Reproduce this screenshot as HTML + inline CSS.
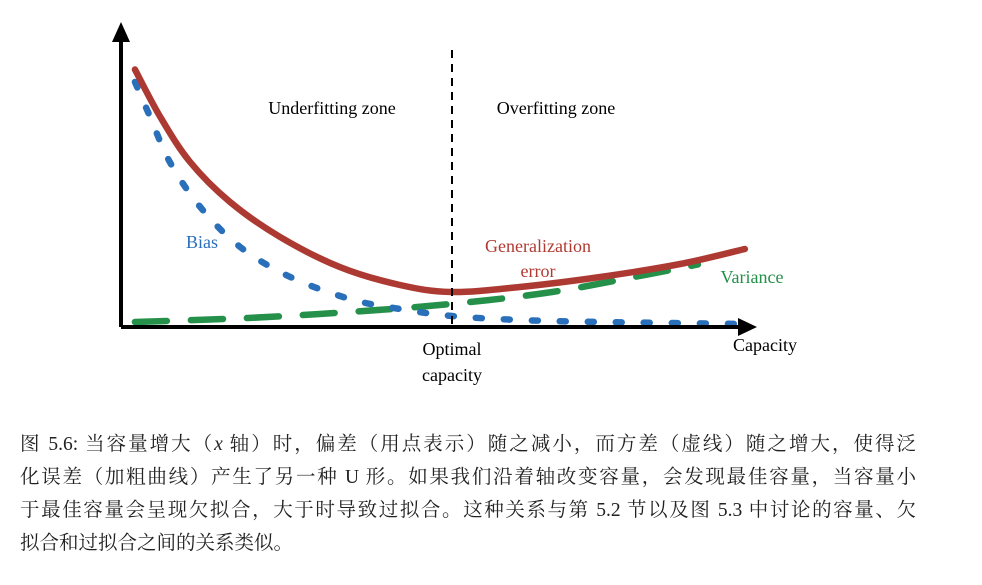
<!DOCTYPE html>
<html><head><meta charset="utf-8"><style>
body{margin:0;background:#fff;width:982px;height:585px;overflow:hidden;position:relative}
svg{position:absolute;left:0;top:0}
.cap{position:absolute;left:20px;width:896px;font-family:"Liberation Serif","Noto Serif CJK SC","Noto Sans CJK SC",serif;font-size:19.5px;color:#222;text-align:justify;text-align-last:justify;white-space:nowrap}
</style></head><body>
<svg width="982" height="400" font-family="Liberation Serif, serif">
<g id="marks"></g>
<line x1="121" y1="327" x2="745" y2="327" stroke="#000" stroke-width="4"/>
<polygon points="757,327 738,318 738,336" fill="#000"/>
<line x1="121" y1="327" x2="121" y2="38" stroke="#000" stroke-width="4"/>
<polygon points="121,22 112,42 130,42" fill="#000"/>
<line x1="452" y1="50" x2="452" y2="327" stroke="#000" stroke-width="2" stroke-dasharray="8 6"/>
<text x="332" y="114" text-anchor="middle" font-size="18">Underfitting zone</text>
<text x="556" y="114" text-anchor="middle" font-size="18">Overfitting zone</text>
<text x="202" y="248" text-anchor="middle" font-size="18" fill="#2a6fba">Bias</text>
<text x="538" y="252" text-anchor="middle" font-size="18" fill="#b03a32">Generalization</text>
<text x="538" y="277" text-anchor="middle" font-size="18" fill="#b03a32">error</text>
<text x="752" y="283" text-anchor="middle" font-size="18" fill="#24904a">Variance</text>
<text x="452" y="355" text-anchor="middle" font-size="18">Optimal</text>
<text x="452" y="381" text-anchor="middle" font-size="18">capacity</text>
<text x="765" y="351" text-anchor="middle" font-size="18">Capacity</text>
</svg>
<div class="cap" style="top:428px">图 5.6: 当容量增大（<i>x</i> 轴）时，偏差（用点表示）随之减小，而方差（虚线）随之增大，使得泛</div>
<div class="cap" style="top:461px">化误差（加粗曲线）产生了另一种 U 形。如果我们沿着轴改变容量，会发现最佳容量，当容量小</div>
<div class="cap" style="top:494px">于最佳容量会呈现欠拟合，大于时导致过拟合。这种关系与第 5.2 节以及图 5.3 中讨论的容量、欠</div>
<div class="cap" style="top:527px;width:auto;text-align-last:auto">拟合和过拟合之间的关系类似。</div>
<script>
const genCap=[2.2,6.2,10.9,17.2,25.1,34.5,44,52.2,62.9,75.6,88.2,98.4];
const genVal=[103,84,66,50,36,24,16.8,14,16,20,25.2,31.2];
const biasCap=[2.2,4.6,7.7,12.5,18.8,26.7,36.1,44,52.2,62.9,75.6,98.4];
const biasVal=[98,84,66,48,32,20,11.2,7.2,4.4,2.8,2,1.2];
const varCap=[2.2,20,36,52,68,83,91];
const varVal=[2,3.6,6,9.2,14,21,25];
function xs(c){return 121+c*6.34;}
function ys(v){return 327-v*2.5;}
function path(cs,vs){
  const p=cs.map((c,i)=>[xs(c),ys(vs[i])]);
  let d='M'+p[0][0]+','+p[0][1];
  for(let i=0;i<p.length-1;i++){
    const p0=p[i-1]||p[i],p1=p[i],p2=p[i+1],p3=p[i+2]||p2;
    const c1=[p1[0]+(p2[0]-p0[0])/6,p1[1]+(p2[1]-p0[1])/6];
    const c2=[p2[0]-(p3[0]-p1[0])/6,p2[1]-(p3[1]-p1[1])/6];
    d+=' C'+c1+' '+c2+' '+p2;
  }
  return d;
}
const g=document.getElementById('marks');
function add(cs,vs,color,w,dash,cap,name){
  const el=document.createElementNS('http://www.w3.org/2000/svg','path');
  el.setAttribute('d',path(cs,vs));
  el.setAttribute('fill','none');
  el.setAttribute('stroke',color);
  el.setAttribute('stroke-width',w);
  if(dash)el.setAttribute('stroke-dasharray',dash);
  el.setAttribute('stroke-linecap',cap);
  
  
  g.appendChild(el);
}
add(varCap,varVal,'#24904a',6.5,'32 24','round','variance-curve');
add(biasCap,biasVal,'#2a6fba',6.5,'6 22','round','bias-curve');
add(genCap,genVal,'#ad3a32',6.5,null,'round','generalization-error-curve');
</script>
</body></html>
